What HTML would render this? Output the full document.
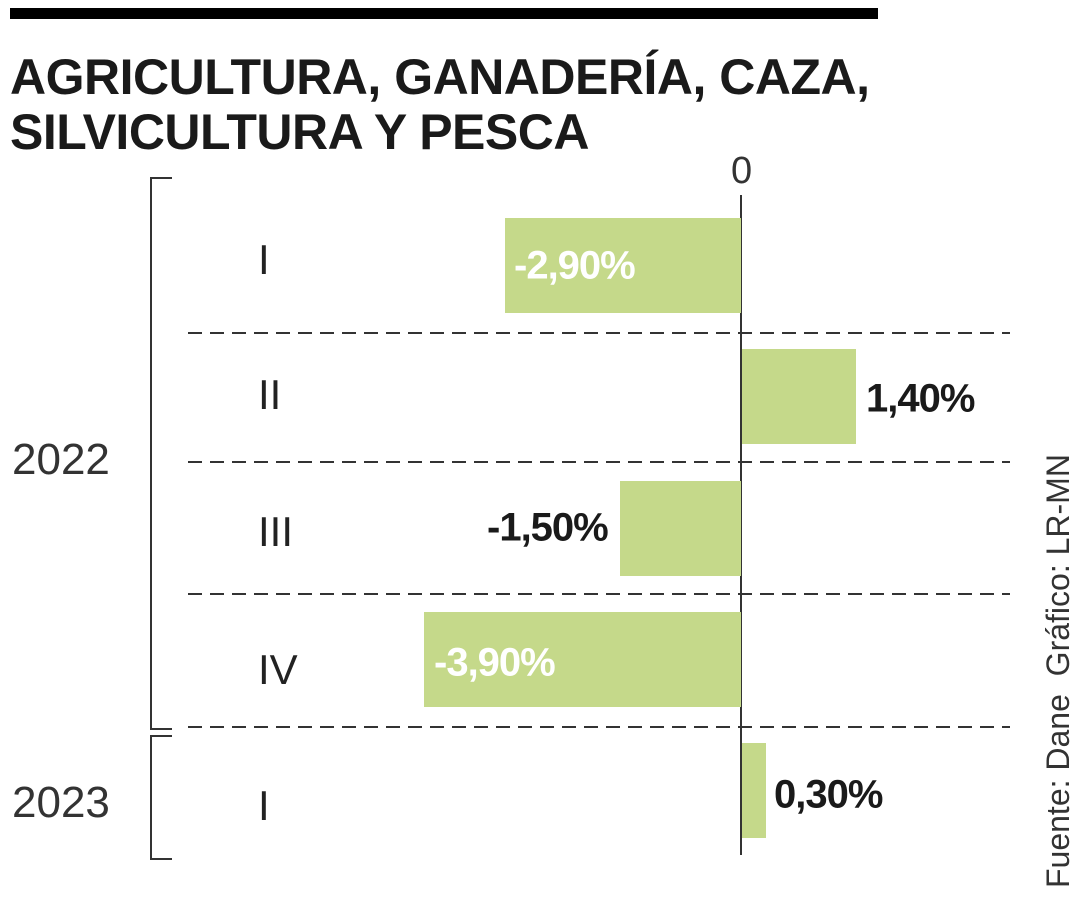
<!DOCTYPE html>
<html><head><meta charset="utf-8"><style>
body{margin:0;width:1080px;height:900px;background:#fff;overflow:hidden;position:relative;font-family:"Liberation Sans Narrow","Liberation Sans",sans-serif;color:#1a1a1a}
.a{position:absolute}
.t{font-weight:bold;font-size:50px;left:10px;line-height:1;letter-spacing:-0.5px;white-space:nowrap}
.bar{position:absolute;background:#c5d98a}
.dash{position:absolute;left:188px;width:822px;height:2px;background:repeating-linear-gradient(90deg,#333 0 14px,transparent 14px 22px)}
.r{position:absolute;left:258px;font-size:42px;font-weight:300;transform:translateY(-50%);color:#222}
.y{position:absolute;left:12px;font-size:44px;transform:translateY(-50%);color:#333}
.v{position:absolute;font-weight:bold;font-size:40px;transform:translateY(-50%);letter-spacing:-1px}
</style></head><body>
<div class="a" style="left:10px;top:8px;width:868px;height:11px;background:#000"></div>
<div class="a t" style="top:52px">AGRICULTURA, GANADERÍA, CAZA,</div>
<div class="a t" style="top:107px">SILVICULTURA Y PESCA</div>
<div class="a" style="left:731px;top:150px;font-size:38px;color:#333">0</div>
<div class="a" style="left:740px;top:195px;width:2px;height:660px;background:#333"></div>
<div class="bar" style="left:505px;top:218px;width:236px;height:95px"></div>
<div class="bar" style="left:742px;top:349px;width:114px;height:95px"></div>
<div class="bar" style="left:620px;top:481px;width:121px;height:95px"></div>
<div class="bar" style="left:424px;top:612px;width:317px;height:95px"></div>
<div class="bar" style="left:742px;top:743px;width:24px;height:95px"></div>
<div class="dash" style="top:332px"></div>
<div class="dash" style="top:461px"></div>
<div class="dash" style="top:593px"></div>
<div class="dash" style="top:726px"></div>
<div class="a" style="left:150px;top:177px;width:20px;height:549px;border:2px solid #333;border-right:none"></div>
<div class="a" style="left:150px;top:735px;width:20px;height:121px;border:2px solid #333;border-right:none"></div>
<div class="r" style="top:260px">I</div>
<div class="r" style="top:395px">II</div>
<div class="r" style="top:532px">III</div>
<div class="r" style="top:670px">IV</div>
<div class="r" style="top:806px">I</div>
<div class="y" style="top:460px">2022</div>
<div class="y" style="top:803px">2023</div>
<div class="v" style="left:514px;top:266px;color:#fff">-2,90%</div>
<div class="v" style="left:866px;top:399px">1,40%</div>
<div class="v" style="left:487px;top:528px">-1,50%</div>
<div class="v" style="left:434px;top:663px;color:#fff">-3,90%</div>
<div class="v" style="left:774px;top:795px">0,30%</div>
<div class="a" style="left:1040px;top:888px;transform:rotate(-90deg);transform-origin:0 0;font-size:32px;white-space:nowrap;color:#333">Fuente: Dane &nbsp;Gráfico: LR-MN</div>
</body></html>
